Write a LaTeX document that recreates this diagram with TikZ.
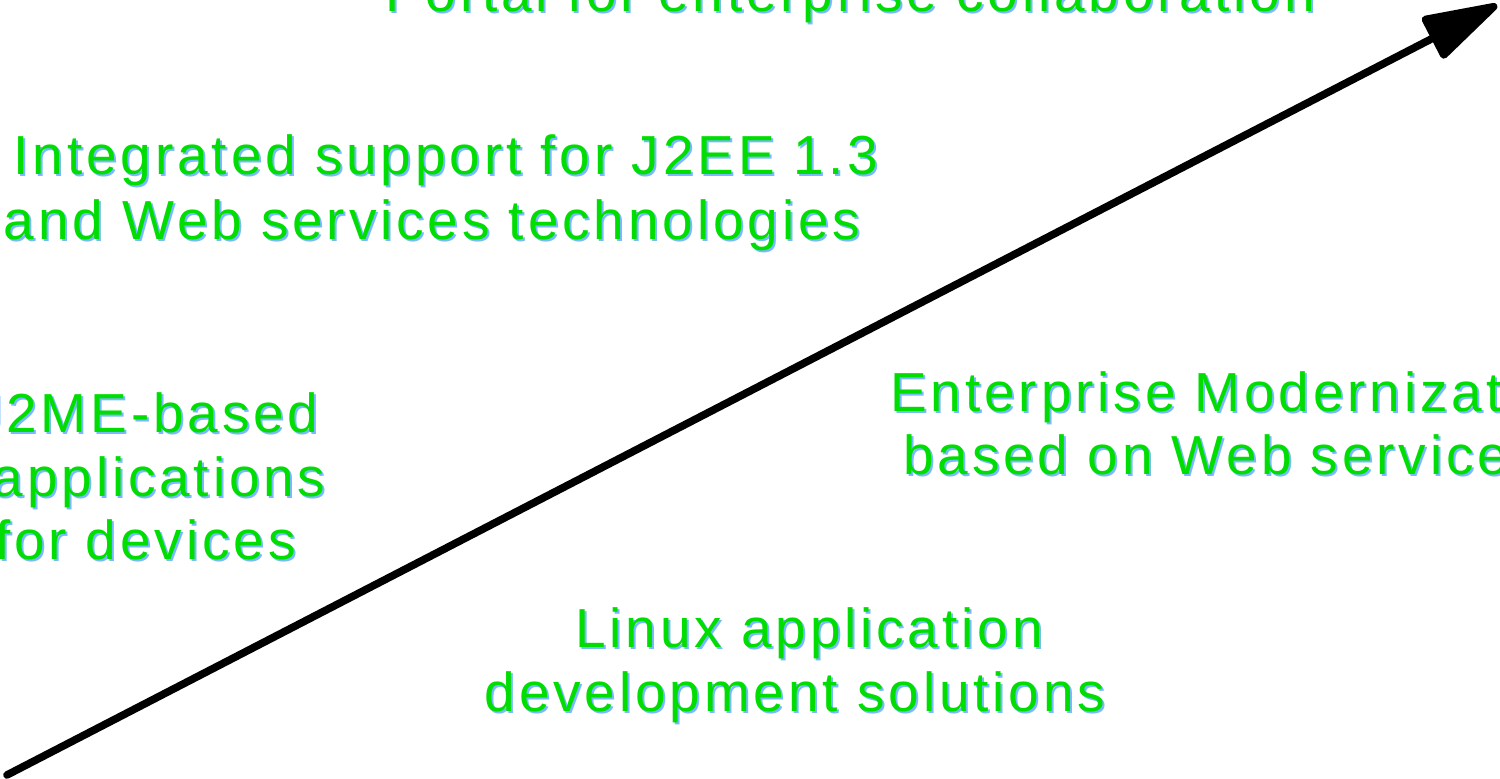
\documentclass[tikz,border=0pt]{standalone}
\usepackage{fontspec}
\newfontfamily\roadfont[LetterSpace=7]{Liberation Sans}
\usetikzlibrary{arrows.meta}
\definecolor{roadgreen}{RGB}{0,221,0}
\definecolor{roadshadow}{RGB}{120,185,255}
\tikzset{
    goal/.style={text=roadgreen, inner sep=0pt, font=\roadfont\fontsize{27.5pt}{32.5pt}\selectfont},
    goalshadow/.style={goal, text=roadshadow, xshift=1pt, yshift=-1pt},
    roadmap/.style={line width=3.8pt, line cap=round, -{Triangle[length=42pt, width=24pt, round]}},
}
\begin{document}
\begin{tikzpicture}[x=0.5pt, y=-0.5pt]
    \useasboundingbox (0,0) rectangle (1500,779);
    \clip (0,0) rectangle (1500,779);

    \node [goalshadow, anchor=base] at (850,12) {Portal for enterprise collaboration};
    \node [goal, anchor=base] (portal) at (850,12) {Portal for enterprise collaboration};

    \node [goalshadow, anchor=base] at (446,175) {Integrated support for J2EE 1.3};
    \node [goal, anchor=base] (jee1) at (446,175) {Integrated support for J2EE 1.3};
    \node [goalshadow, anchor=base] at (432,240) {and Web services technologies};
    \node [goal, anchor=base] (jee2) at (432,240) {and Web services technologies};

    \node [goalshadow, anchor=base east] at (319,433) {J2ME-based};
    \node [goal, anchor=base east] (jme1) at (319,433) {J2ME-based};
    \node [goalshadow, anchor=base east] at (326,497) {applications};
    \node [goal, anchor=base east] (jme2) at (326,497) {applications};
    \node [goalshadow, anchor=base east] at (296,560) {for devices};
    \node [goal, anchor=base east] (jme3) at (296,560) {for devices};

    \node [goalshadow, anchor=base west] at (890,412) {Enterprise Modernization};
    \node [goal, anchor=base west] (ent1) at (890,412) {Enterprise Modernization};
    \node [goalshadow, anchor=base west] at (903,475) {based on Web services};
    \node [goal, anchor=base west] (ent2) at (903,475) {based on Web services};

    \node [goalshadow, anchor=base] at (809,648) {Linux application};
    \node [goal, anchor=base] (linux1) at (809,648) {Linux application};
    \node [goalshadow, anchor=base] at (795,712) {development solutions};
    \node [goal, anchor=base] (linux2) at (795,712) {development solutions};

    \coordinate (start) at (7,775);
    \coordinate (now) at (1497,5);
    \draw [roadmap] (start) -- (now);
\end{tikzpicture}
\end{document}
